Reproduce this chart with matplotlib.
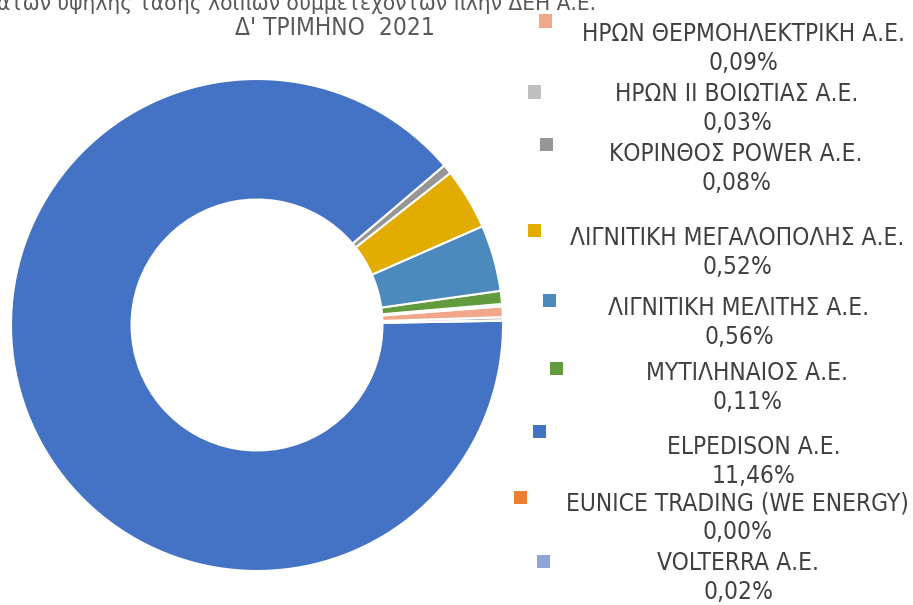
import matplotlib
matplotlib.use("Agg")
import matplotlib.pyplot as plt
from matplotlib.patches import Rectangle

# data: share of high-voltage customers (other than ΔΕΗ), Q4 2021
companies = ["ΗΡΩΝ ΘΕΡΜΟΗΛΕΚΤΡΙΚΗ Α.Ε.", "ΗΡΩΝ ΙΙ ΒΟΙΩΤΙΑΣ Α.Ε.", "ΚΟΡΙΝΘΟΣ POWER Α.Ε.",
             "ΛΙΓΝΙΤΙΚΗ ΜΕΓΑΛΟΠΟΛΗΣ Α.Ε.", "ΛΙΓΝΙΤΙΚΗ ΜΕΛΙΤΗΣ Α.Ε.", "ΜΥΤΙΛΗΝΑΙΟΣ Α.Ε.",
             "ELPEDISON Α.Ε.", "EUNICE TRADING (WE ENERGY)", "VOLTERRA Α.Ε."]
shares = [0.09, 0.03, 0.08, 0.52, 0.56, 0.11, 11.46, 0.00, 0.02]
colors = ["#F1A78A", "#BFBFBF", "#969696", "#E2AC00", "#4C89BC",
          "#629B3E", "#4472C4", "#ED7D31", "#8FA5D6"]
# order of the slices round the ring (counter-clockwise from 3 o'clock)
ring_order = [1, 0, 8, 5, 4, 3, 2, 6, 7]

title_line1 = "ατων υψηλής τάσης λοιπών συμμετεχόντων πλην ΔΕΗ Α.Ε."
title_line2 = "Δ' ΤΡΙΜΗΝΟ  2021"

# legend layout in pixels (x, y from top-left): marker centre, text centre x, first line y
marker_px = [(545, 21), (534, 92), (546, 144), (534, 230), (549, 300),
             (556, 368), (539, 431), (520, 497), (543, 561)]
text_px = [(743, 34), (737, 94), (736, 154), (737, 238), (739, 308),
           (747, 373), (754, 447), (737, 503), (738, 563)]

W, H = 913, 605
TXT = "#404040"
font = dict(family=["DejaVu Sans"], fontstretch="condensed", fontsize=17.6)

fig = plt.figure(figsize=(W / 100, H / 100), dpi=100)

# donut: centre (257, 325) px, radius 246 px
cx, cy, r = 257, 325, 246
ax = fig.add_axes([(cx - r) / W, (H - cy - r) / H, 2 * r / W, 2 * r / H])
ax.pie([shares[i] for i in ring_order],
       colors=[colors[i] for i in ring_order],
       startangle=1, counterclock=True, radius=1,
       wedgeprops=dict(width=0.49, edgecolor="white", linewidth=1.5))
ax.set_xlim(-1, 1)
ax.set_ylim(-1, 1)
ax.set_aspect("equal")
ax.axis("off")


def fx(px):
    return px / W


def fy(py):
    return 1 - py / H


# title (first line runs off the top/left of the picture, as in the source)
fig.text(fx(-3), fy(3), title_line1, ha="left", va="center",
         color="#595959", family=["DejaVu Sans"], fontstretch="condensed",
         fontsize=16.2)
fig.text(fx(335), fy(28), title_line2, ha="center", va="center",
         color="#595959", **font)

# legend with percentages
sq = 13
for name, val, col, (mx, my), (tx, ty) in zip(companies, shares, colors,
                                               marker_px, text_px):
    fig.patches.append(Rectangle((fx(mx - sq / 2), fy(my + sq / 2)), sq / W, sq / H,
                                 transform=fig.transFigure, facecolor=col,
                                 edgecolor="none"))
    pct = f"{val:.2f}%".replace(".", ",")
    fig.text(fx(tx), fy(ty), name, ha="center", va="center", color=TXT, **font)
    fig.text(fx(tx), fy(ty + 29), pct, ha="center", va="center", color=TXT, **font)

fig.savefig("out.png", dpi=100)
